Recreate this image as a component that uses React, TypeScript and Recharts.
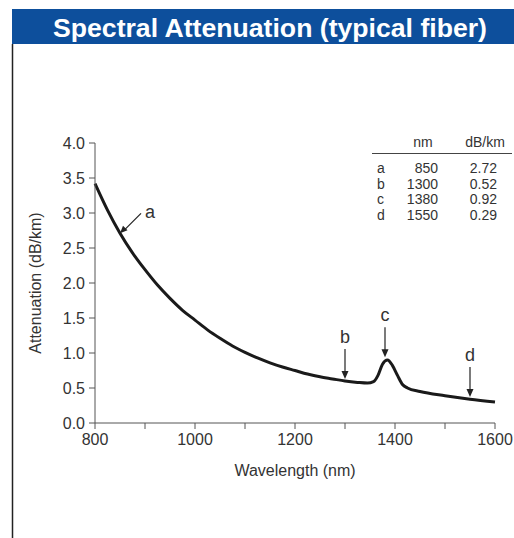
import { LineChart, Line, XAxis, YAxis, ReferenceDot } from 'recharts';

// curve (nm, dB/km)
const wavelength = [
  800, 825, 850, 875, 900, 925, 950, 975, 1000, 1025, 1050, 1075, 1100, 1125, 1150, 1175,
  1200, 1225, 1250, 1275, 1300, 1325, 1345, 1357, 1366, 1375, 1385, 1395, 1405, 1415, 1425,
  1450, 1500, 1550, 1600,
];
const attenuation = [
  3.42, 3.04, 2.71, 2.43, 2.19, 1.97, 1.78, 1.61, 1.47, 1.33, 1.21, 1.1, 1.01, 0.93, 0.86, 0.8,
  0.75, 0.7, 0.66, 0.63, 0.6, 0.58, 0.57, 0.59, 0.68, 0.84, 0.9, 0.82, 0.68, 0.55, 0.5,
  0.45, 0.39, 0.34, 0.3,
];

const xTicks = [800, 900, 1000, 1100, 1200, 1300, 1400, 1500, 1600];
const xLabelled = [800, 1000, 1200, 1400, 1600];
const yTicks = [0, 0.5, 1, 1.5, 2, 2.5, 3, 3.5, 4];

const markerLetters = ['a', 'b', 'c', 'd'];
const markerNm = [850, 1300, 1380, 1550];
const markerDb = [2.72, 0.52, 0.92, 0.29];
// where each arrow tip sits on the plot
const arrowTipDb = [2.71, 0.63, 0.94, 0.37];

const data = wavelength.map((nm, i) => ({ nm, db: attenuation[i] }));

const FONT = '"Liberation Sans", Arial, Helvetica, sans-serif';
const INK = '#333';
const AXIS = '#555';

function arrowShape(letter: string) {
  return (p: any) => {
    const { cx, cy } = p;
    if (letter === 'a') {
      return (
        <g>
          <line x1={cx + 21} y1={cy - 20} x2={cx + 4} y2={cy - 3} stroke="#222" strokeWidth={1.2} />
          <polygon points={`${cx},${cy} ${cx + 7.5},${cy - 3} ${cx + 3},${cy - 7.5}`} fill="#222" />
          <text x={cx + 25} y={cy - 15} fontSize={18} fontFamily={FONT} fill={INK}>
            {letter}
          </text>
        </g>
      );
    }
    return (
      <g>
        <line x1={cx} y1={cy - 30} x2={cx} y2={cy - 6} stroke="#222" strokeWidth={1.2} />
        <polygon points={`${cx - 3.5},${cy - 8} ${cx + 3.5},${cy - 8} ${cx},${cy}`} fill="#222" />
        <text x={cx} y={cy - 36} fontSize={18} fontFamily={FONT} fill={INK} textAnchor="middle">
          {letter}
        </text>
      </g>
    );
  };
}

const YTitle = (props: any) => {
  const vb = props.viewBox || { x: 35, y: 143, width: 60, height: 280 };
  const x = vb.x + 6;
  const y = vb.y + vb.height / 2;
  return (
    <text
      x={x}
      y={y}
      transform={`rotate(-90 ${x} ${y})`}
      textAnchor="middle"
      fontSize={16}
      fontFamily={FONT}
      fill={INK}
    >
      Attenuation (dB/km)
    </text>
  );
};

export default function App() {
  return (
    <div style={{ position: 'absolute', left: 0, top: 0, width: 514, height: 538, background: '#fff' }}>
      <LineChart
        width={514}
        height={538}
        data={data}
        margin={{ top: 143, right: 19, left: 35, bottom: 55 }}
      >
        <XAxis
          dataKey="nm"
          type="number"
          domain={[800, 1600]}
          ticks={xTicks}
          tickFormatter={(v) => (xLabelled.includes(v) ? String(v) : '')}
          tickSize={6}
          tickMargin={5}
          height={60}
          stroke={AXIS}
          tick={{ fill: INK, fontSize: 16, fontFamily: FONT }}
          label={{
            value: 'Wavelength (nm)',
            position: 'insideBottom',
            offset: 7,
            fill: INK,
            fontSize: 16,
            fontFamily: FONT,
          }}
        />
        <YAxis
          type="number"
          domain={[0, 4]}
          ticks={yTicks}
          tickFormatter={(v) => Number(v).toFixed(1)}
          tickSize={6}
          tickMargin={4}
          width={60}
          stroke={AXIS}
          tick={{ fill: INK, fontSize: 16, fontFamily: FONT }}
          label={(p: any) => <YTitle {...p} />}
        />
        <Line
          type="monotone"
          dataKey="db"
          stroke="#1a1a1a"
          strokeWidth={3}
          dot={false}
          isAnimationActive={false}
        />
        {markerLetters.map((l, i) => (
          <ReferenceDot
            key={l}
            x={markerNm[i]}
            y={arrowTipDb[i]}
            r={0}
            shape={arrowShape(l)}
          />
        ))}
      </LineChart>

      <svg
        width={514}
        height={538}
        style={{ position: 'absolute', left: 0, top: 0, pointerEvents: 'none' }}
      >
        <rect x={12} y={9} width={502} height={35} fill="#0d4f9c" />
        <text
          x={270}
          y={37}
          textAnchor="middle"
          fontSize={26}
          fontWeight={900}
          fontFamily={FONT}
          fill="#fff"
          textLength={434}
          lengthAdjust="spacingAndGlyphs"
        >
          Spectral Attenuation (typical fiber)
        </text>
        <line x1={12.5} y1={44} x2={12.5} y2={538} stroke="#222" strokeWidth={1.5} />

        <g fontFamily={FONT} fontSize={14} fill={INK}>
          <text x={423} y={147} textAnchor="middle">nm</text>
          <text x={485} y={147} textAnchor="middle">dB/km</text>
          <line x1={372} y1={153.5} x2={512} y2={153.5} stroke="#444" strokeWidth={1} />
          {markerLetters.map((l, i) => (
            <g key={l}>
              <text x={377} y={173 + i * 15.7}>{l}</text>
              <text x={438} y={173 + i * 15.7} textAnchor="end">{markerNm[i]}</text>
              <text x={497} y={173 + i * 15.7} textAnchor="end">{markerDb[i].toFixed(2)}</text>
            </g>
          ))}
        </g>
      </svg>
    </div>
  );
}
